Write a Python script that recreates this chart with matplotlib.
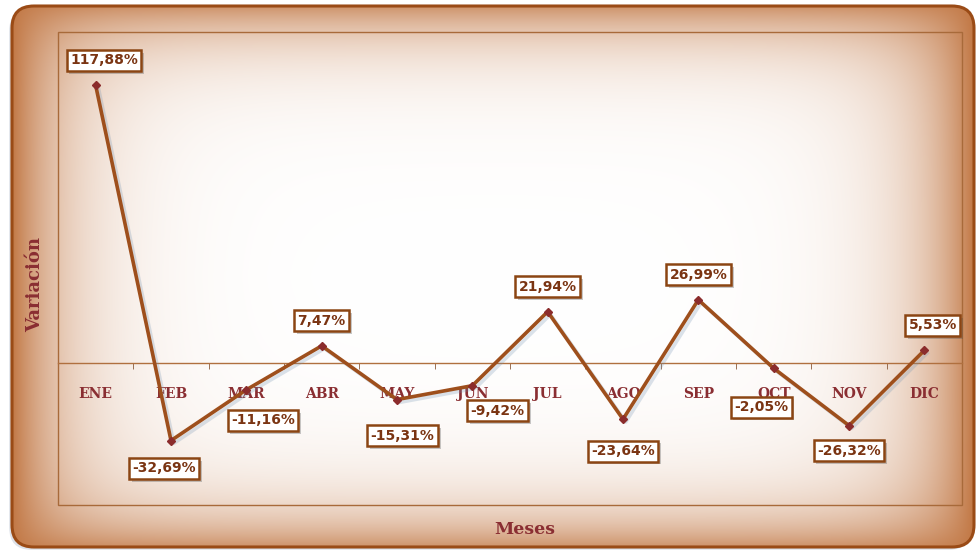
import matplotlib
import matplotlib.pyplot as plt
import matplotlib.patheffects as pe
import numpy as np
from matplotlib.patches import FancyBboxPatch, Rectangle

matplotlib.use('Agg')

meses = ['ENE', 'FEB', 'MAR', 'ABR', 'MAY', 'JUN', 'JUL', 'AGO', 'SEP', 'OCT', 'NOV', 'DIC']
variacion = [117.88, -32.69, -11.16, 7.47, -15.31, -9.42, 21.94, -23.64, 26.99, -2.05, -26.32, 5.53]
# label offset in points (dx, dy) for each data label
offsets = [(6, 18), (-5, -20), (12, -22), (0, 18), (4, -26), (18, -18), (0, 18), (0, -23), (0, 18), (-9, -28), (0, -18), (6, 18)]

W, H = 978, 551
line_c = '#9E4F1C'
text_c = '#8A2E32'
label_c = '#7A3412'

fig = plt.figure(figsize=(W / 100, H / 100), dpi=100)
fig.patch.set_facecolor('white')

# background panel with gradient towards the edges
bg = fig.add_axes([0, 0, 1, 1])
bg.set_xlim(0, W)
bg.set_ylim(H, 0)
bg.axis('off')
pw, ph = 962, 541
yy, xx = np.mgrid[0:ph, 0:pw]
dx = np.minimum(xx, pw - 1 - xx)
dy = np.minimum(yy, ph - 1 - yy)
wx = np.exp(-dx / 55.0)
wy = 0.8 * np.exp(-dy / 40.0)
w = 1 - (1 - wx) * (1 - wy)
white = np.array([1.0, 1.0, 1.0])
tan = np.array([0.76, 0.47, 0.27])
img = white * (1 - w[..., None]) + tan * w[..., None]

shadow = FancyBboxPatch((12, 6), pw, ph, boxstyle='round,pad=0,rounding_size=22',
                        fc='white', ec='none', zorder=0,
                        path_effects=[pe.withSimplePatchShadow(offset=(-2, -2), shadow_rgbFace='#8FA0B8', alpha=0.3)])
bg.add_patch(shadow)
box = FancyBboxPatch((12, 6), pw, ph, boxstyle='round,pad=0,rounding_size=22',
                     fc='none', ec='#9A4B16', lw=2.2, zorder=3)
bg.add_patch(box)
im = bg.imshow(img, extent=(12, 12 + pw, 6 + ph, 6), aspect='auto', zorder=1)
im.set_clip_path(box)

# main chart area
ax = fig.add_axes([58 / W, (H - 505) / H, (962 - 58) / W, (505 - 32) / H])
ax.set_facecolor('none')
x = np.arange(len(meses))
ax.set_xlim(-0.5, len(meses) - 0.5)
ax.set_ylim(-60, 140.5)

for s in ['left', 'right', 'top']:
    ax.spines[s].set_color('none')
ax.spines['bottom'].set_position(('data', 0))
ax.spines['bottom'].set_color('#B0703F')
ax.spines['bottom'].set_linewidth(1)
ax.add_patch(Rectangle((0, 0), 1, 1, transform=ax.transAxes, fill=False,
                       ec='#A86A3A', lw=1, zorder=0, clip_on=False))

ax.set_yticks([])
ax.set_xticks(x)
ax.set_xticklabels(meses, fontfamily='DejaVu Serif', fontweight='bold',
                   fontsize=10, color=text_c)
ax.set_xticks(np.arange(0.5, len(meses) - 1, 1), minor=True)
ax.tick_params(axis='x', which='major', length=0, pad=17)
ax.tick_params(axis='x', which='minor', length=4, color='#8A5A3A', direction='out')

ax.plot(x, variacion, color=line_c, lw=2.6, zorder=3,
        path_effects=[pe.SimpleLineShadow(offset=(2, -2), shadow_color='#7090B0', alpha=0.25),
                      pe.Normal()])
ax.plot(x, variacion, 'D', color='#8B2C2C', ms=4, zorder=4)

for xi, v, (ox, oy) in zip(x, variacion, offsets):
    lab = f'{v:.2f}%'.replace('.', ',')
    t = ax.annotate(lab, (xi, v), xytext=(ox, oy), textcoords='offset points',
                    ha='center', va='center', fontsize=10, fontweight='bold',
                    color=label_c, zorder=6,
                    bbox=dict(boxstyle='square,pad=0.25', fc='white', ec='#8B4513', lw=1.8))
    t.get_bbox_patch().set_path_effects([pe.withSimplePatchShadow(offset=(2, -2), alpha=0.3)])

fig.text(35 / W, 1 - 285 / H, 'Variación', rotation=90, ha='center', va='center',
         fontfamily='DejaVu Serif', fontweight='bold', fontsize=13, color=text_c)
fig.text(525 / W, 1 - 529 / H, 'Meses', ha='center', va='center',
         fontfamily='DejaVu Serif', fontweight='bold', fontsize=12.5, color=text_c)

fig.savefig('out.png', dpi=100)
